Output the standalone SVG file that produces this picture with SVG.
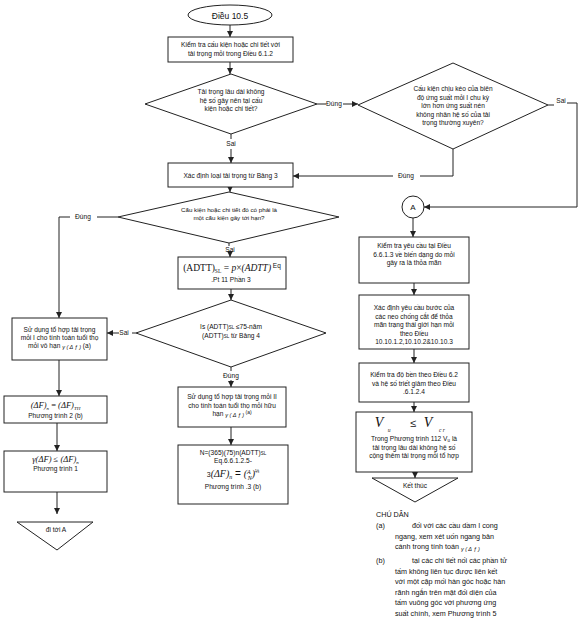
<svg xmlns="http://www.w3.org/2000/svg" width="578" height="630" viewBox="0 0 578 630">
<style>
.n rect,.n polygon,.n ellipse,.n circle{fill:#fff;stroke:#222;stroke-width:1}
text{font-family:"Liberation Sans",Arial,sans-serif;fill:#111}
.t{font-size:6.6px;text-anchor:middle}
.s{font-size:6.2px;text-anchor:middle}
.m{font-family:"Liberation Serif","Times New Roman",serif;font-style:italic}
.l{font-size:7.2px}
.c path,.c line{stroke:#222;stroke-width:1;fill:none}
.lb{font-size:6.6px;text-anchor:middle}
</style>
<defs>
<marker id="ah" viewBox="0 0 6 6" refX="6" refY="3" markerWidth="6" markerHeight="6" markerUnits="userSpaceOnUse" orient="auto">
<path d="M0,0 L6,3 L0,6 z" fill="#222"/>
</marker>
</defs>
<rect width="578" height="630" fill="#fff"/>

<g class="c">
<line x1="230" y1="25" x2="230" y2="37" marker-end="url(#ah)"/>
<line x1="230" y1="62" x2="230" y2="74" marker-end="url(#ah)"/>
<path d="M317,104 H326"/>
<path d="M343,104 H358" marker-end="url(#ah)"/>
<text class="lb" x="334" y="106">Đúng</text>
<path d="M548,105 H554"/>
<text class="lb" x="561" y="103">Sai</text>
<path d="M567,103 H577 V207 H424" marker-end="url(#ah)"/>
<path d="M453,149 V176 H420"/>
<text class="lb" x="406" y="178">Đúng</text>
<path d="M393,176 H293" marker-end="url(#ah)"/>
<path d="M231,134 V139"/>
<text class="lb" x="231" y="146">Sai</text>
<path d="M231,149 V163" marker-end="url(#ah)"/>
<line x1="230" y1="187" x2="230" y2="192" marker-end="url(#ah)"/>
<path d="M118,217 H97"/>
<text class="lb" x="83" y="219">Đúng</text>
<path d="M70,217 H59 V318" marker-end="url(#ah)"/>
<path d="M229,243 V246"/>
<text class="lb" x="230" y="252">Sai</text>
<path d="M230,254 V257" marker-end="url(#ah)"/>
<line x1="231" y1="289" x2="231" y2="300" marker-end="url(#ah)"/>
<path d="M136,333 H132"/>
<text class="lb" x="124" y="335">Sai</text>
<path d="M119,333 H107" marker-end="url(#ah)"/>
<path d="M231,367 V371"/>
<text class="lb" x="231" y="378">Đúng</text>
<path d="M231,380 V387" marker-end="url(#ah)"/>
<line x1="231" y1="427" x2="231" y2="445" marker-end="url(#ah)"/>
<line x1="59" y1="360" x2="59" y2="396" marker-end="url(#ah)"/>
<line x1="57" y1="423" x2="57" y2="451" marker-end="url(#ah)"/>
<line x1="57" y1="492" x2="57" y2="514" marker-end="url(#ah)"/>
<line x1="413" y1="218" x2="413" y2="237" marker-end="url(#ah)"/>
<line x1="414" y1="283" x2="414" y2="295" marker-end="url(#ah)"/>
<line x1="414" y1="349" x2="414" y2="363" marker-end="url(#ah)"/>
<line x1="414" y1="402" x2="414" y2="412" marker-end="url(#ah)"/>
<line x1="415" y1="472" x2="415" y2="478" marker-end="url(#ah)"/>
</g>

<g id="start" class="n">
<ellipse cx="230" cy="15" rx="42" ry="10"/>
<text class="t" x="230" y="18.5" style="font-size:8.5px">Điều 10.5</text>
</g>

<g id="check1" class="n">
<rect x="168" y="37" width="125" height="25"/>
<text class="t" x="230.5" y="47">Kiểm tra cấu kiện hoặc chi tiết với</text>
<text class="t" x="230.5" y="56">tải trọng mỏi trong Điều 6.1.2</text>
</g>

<g id="dec1" class="n">
<polygon points="231,74 317,104 231,134 145,104"/>
<text class="t" x="231" y="94">Tải trọng lâu dài không</text>
<text class="t" x="231" y="102.5">hệ số gây nên tại cấu</text>
<text class="t" x="231" y="111">kiện hoặc chi tiết?</text>
</g>

<g id="dec2" class="n">
<polygon points="453,63 548,105 453,149 358,105"/>
<text class="t" x="453" y="91">Cấu kiện chịu kéo của biên</text>
<text class="t" x="453" y="99.5">độ ứng suất mỏi I chu kỳ</text>
<text class="t" x="453" y="108">lớn hơn ứng suất nén</text>
<text class="t" x="453" y="116.5">không nhân hệ số của tải</text>
<text class="t" x="453" y="125">trọng thường xuyên?</text>
</g>

<g id="loadtype" class="n">
<rect x="168" y="163" width="125" height="24"/>
<text class="t" x="230.5" y="177.5">Xác định loại tải trọng từ Bảng 3</text>
</g>

<g id="dec3" class="n">
<polygon points="229,192 339,217 229,243 118,217"/>
<text class="s" x="229" y="212">Cấu kiện hoặc chi tiết đó có phải là</text>
<text class="s" x="229" y="220">một cấu kiện gây tới hạn?</text>
</g>

<g id="adtt" class="n">
<rect x="178" y="257" width="108" height="32"/>
<text x="232" y="271" text-anchor="middle" style="font-family:'Liberation Serif',serif;font-size:9.5px">(ADTT)<tspan style="font-size:5.5px" dy="2">SL</tspan><tspan dy="-2"> = </tspan><tspan class="m">p</tspan>×<tspan class="m">(ADTT)</tspan><tspan style="font-family:'Liberation Sans',sans-serif;font-size:6.5px" dy="-3"> Eq</tspan></text>
<text class="t" x="231" y="282">.Pt 11 Phần 3</text>
</g>

<g id="dec4" class="n">
<polygon points="231,300 326,333 231,367 136,333"/>
<text class="t" x="231" y="329">Is (ADTT)<tspan style="font-size:4.5px">SL</tspan> ≤75-năm</text>
<text class="t" x="231" y="338">(ADTT)<tspan style="font-size:4.5px">SL</tspan> từ Bảng   4</text>
</g>

<g id="fat2" class="n">
<rect x="178" y="387" width="108" height="40"/>
<text class="t" x="232" y="399">Sử dụng tổ hợp tải trọng mỏi II</text>
<text class="t" x="232" y="407.5">cho tính toán tuổi thọ mỏi hữu</text>
<text class="t" x="232" y="416">hạn <tspan style="font-size:5.5px;font-style:italic" dy="1">γ ( Δ ƒ )</tspan><tspan style="font-size:5px" dy="-3"> (a)</tspan></text>
</g>

<g id="nbox" class="n">
<rect x="178" y="445" width="110" height="59"/>
<text class="t" x="233" y="455">N=(365)(75)n(ADTT)<tspan style="font-size:4.5px">SL</tspan></text>
<text class="t" x="233" y="463">Eq.6.6.1.2.5-</text>
<text x="233" y="477" text-anchor="middle" style="font-size:10px"><tspan style="font-size:7px">3</tspan><tspan class="m">(ΔF)</tspan><tspan class="m" style="font-size:6px" dy="2">n</tspan><tspan dy="-2"> = </tspan><tspan class="m">(</tspan><tspan class="m" style="font-size:6px" dy="-3">A</tspan><tspan class="m" style="font-size:6px" dx="-3" dy="6">N</tspan><tspan class="m" dy="-3">)</tspan><tspan style="font-size:5px" dy="-4">⅓</tspan></text>
<text class="t" x="233" y="489">Phương trình .3 (b)</text>
</g>

<g id="fat1" class="n">
<rect x="12" y="318" width="95" height="42"/>
<text class="t" x="59.5" y="332">Sử dụng tổ hợp tải trọng</text>
<text class="t" x="59.5" y="340">mỏi I cho tính toán tuổi thọ</text>
<text class="t" x="59.5" y="348">mỏi vô hạn <tspan style="font-size:5.5px;font-style:italic" dy="1">γ ( Δ ƒ )</tspan><tspan dy="-1">  (a)</tspan></text>
</g>

<g id="eq2" class="n">
<rect x="4" y="396" width="103" height="27"/>
<text x="55.5" y="408" text-anchor="middle" class="m" style="font-size:8.5px">(ΔF)<tspan style="font-size:5px" dy="2">n</tspan><tspan dy="-2" style="font-style:normal"> = </tspan>(ΔF)<tspan style="font-size:5px" dy="2">TH</tspan></text>
<text class="t" x="55.5" y="418">Phương trình 2 (b)</text>
</g>

<g id="eq1" class="n">
<rect x="4" y="451" width="103" height="41"/>
<text x="55.5" y="462" text-anchor="middle" class="m" style="font-size:8.5px">γ(ΔF)<tspan style="font-style:normal">  ≤ </tspan>(ΔF)<tspan style="font-size:5px" dy="2">n</tspan></text>
<text class="t" x="55.5" y="471">Phương trình 1</text>
</g>

<g id="gotoA" class="n">
<polygon points="17,522 93,522 57,550"/>
<text class="t" x="56" y="532">đi tới A</text>
</g>

<g id="connA" class="n">
<circle cx="413" cy="207" r="11"/>
<text class="t" x="413" y="210" style="font-size:8px">A</text>
</g>

<g id="check2" class="n">
<rect x="359" y="237" width="110" height="46"/>
<text class="t" x="414" y="248">Kiểm tra yêu cầu tại Điều</text>
<text class="t" x="414" y="256.5">6.6.1.3 về biến dạng do mỏi</text>
<text class="t" x="414" y="265">gây ra là thỏa mãn</text>
</g>

<g id="studs" class="n">
<rect x="359" y="295" width="110" height="54"/>
<text class="t" x="414" y="310">Xác định yêu cầu bước của</text>
<text class="t" x="414" y="318.5">các neo chống cắt để thỏa</text>
<text class="t" x="414" y="327">mãn trạng thái giới hạn mỏi</text>
<text class="t" x="414" y="335.5">theo Điều</text>
<text class="t" x="414" y="344">10.10.1.2,10.10.2&amp;10.10.3</text>
</g>

<g id="strength" class="n">
<rect x="359" y="363" width="110" height="39"/>
<text class="t" x="414" y="377">Kiểm tra độ bền theo Điều  6.2</text>
<text class="t" x="414" y="385.5">và hệ số triết giảm theo Điều</text>
<text class="t" x="414" y="394">.6.1.2.4</text>
</g>

<g id="shear" class="n">
<rect x="356" y="412" width="116" height="60"/>
<text x="379" y="427" class="m" style="font-size:14px" text-anchor="middle">V</text>
<text x="389" y="432" class="m" style="font-size:5.5px" text-anchor="middle">u</text>
<text x="413" y="427" style="font-size:11px" text-anchor="middle">≤</text>
<text x="428" y="427" class="m" style="font-size:14px" text-anchor="middle">V</text>
<text x="442" y="432" class="m" style="font-size:5.5px" text-anchor="middle">c r</text>
<text class="t" x="414" y="441">Trong Phương trình 112 V<tspan style="font-size:4.5px" dy="1">u</tspan><tspan dy="-1"> là</tspan></text>
<text class="t" x="414" y="449.5">tải trọng lâu dài không hệ số</text>
<text class="t" x="414" y="458">cộng thêm tải trọng mỏi tổ hợp</text>
</g>

<g id="end" class="n">
<polygon points="372,478 458,478 415,502"/>
<text class="t" x="415" y="488">Kết thúc</text>
</g>

<g id="legend">
<text class="l" x="376" y="517">CHÚ DẪN</text>
<text class="l" x="376" y="528">(a)</text>
<text class="l" x="412" y="528">đối với các cầu dầm I cong</text>
<text class="l" x="395" y="538.5">ngang, xem xét uốn ngang bản</text>
<text class="l" x="395" y="549">cánh trong tính toán <tspan style="font-size:5.5px;font-style:italic" dy="2">γ ( Δ ƒ )</tspan></text>
<text class="l" x="376" y="563">(b)</text>
<text class="l" x="412" y="563">tại các chi tiết nối các phần tử</text>
<text class="l" x="395" y="573.5">tấm không liên tục được liên kết</text>
<text class="l" x="395" y="584">với một cặp mối hàn góc hoặc hàn</text>
<text class="l" x="395" y="594.5">rãnh ngắn trên mặt đối diện của</text>
<text class="l" x="395" y="605">tấm vuông góc với phương ứng</text>
<text class="l" x="395" y="615.5">suất chính, xem Phương trình 5</text>
</g>
</svg>
